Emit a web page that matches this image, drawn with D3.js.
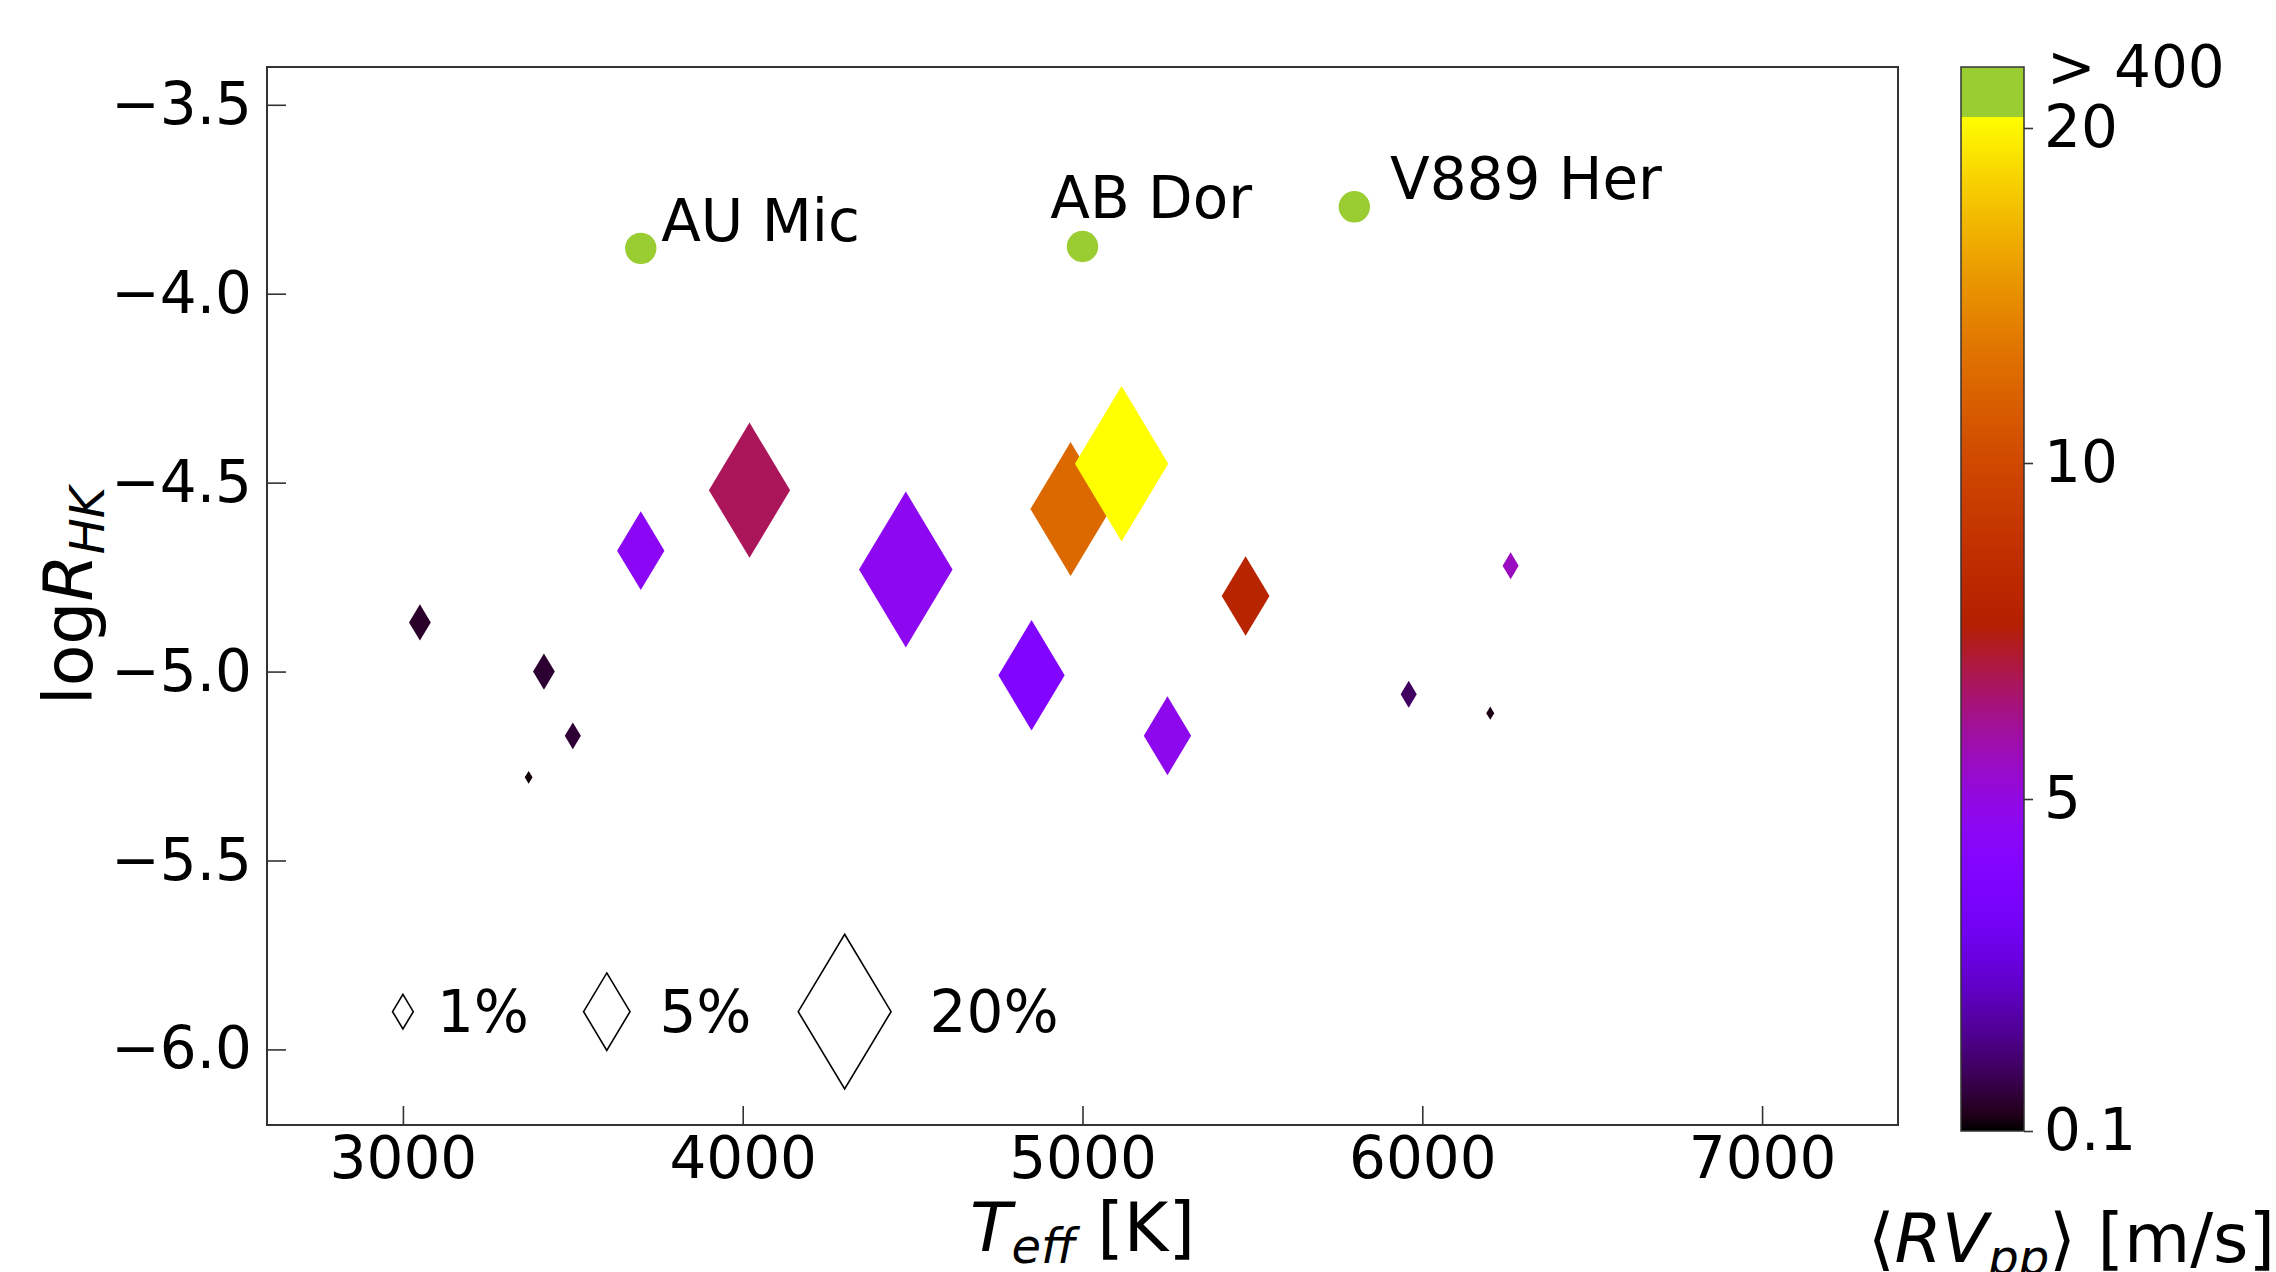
<!DOCTYPE html>
<html>
<head>
<meta charset="utf-8">
<script src="https://cdn.jsdelivr.net/npm/d3@7"></script>
<style>
  body { margin: 0; background: #fff; }
  text { font-family: 'DejaVu Sans', sans-serif; fill: #000; }
</style>
</head>
<body>
<div id="chart"></div>
<script>
// Data
const teff   = [3050, 3415, 3500, 3370, 3700, 4020, 4480, 4965, 5115, 4850, 5250, 5480, 5960, 6200, 6260]
const logRHK = [-4.87, -5.00, -5.17, -5.28, -4.68, -4.52, -4.73, -4.57, -4.45, -5.01, -5.17, -4.80, -5.06, -5.11, -4.72]
const rvpp   = [0.5, 0.55, 0.6, 0.15, 4.5, 6.75, 4.65, 12.6, 22, 3.85, 4.75, 7.9, 1.04, 0.28, 5.57]
const pct    = [1.1, 1.1, 0.6, 0.14, 5.2, 15.3, 20.3, 15, 20.2, 10.2, 5.2, 5.3, 0.6, 0.15, 0.6]

// Very active stars (> 400 m/s)
const activeNames = ['AU Mic', 'AB Dor', 'V889 Her']
const activeTeff  = [3700, 5000, 5800]
const activeLogR  = [-3.88, -3.875, -3.77]
const labelTeff   = [3760, 4905, 5905]
const labelLogR   = [-3.86, -3.80, -3.75]

// Size legend
const legendPct   = [1, 5, 20]
const legendTeff  = [3000, 3600, 4300]
const legendText  = ['1%', '5%', '20%']
const legendTextTeff = [3100, 3755, 4550]
const legendLogR  = -5.9

const xTicks  = [3000, 4000, 5000, 6000, 7000]
const yTicks  = [-3.5, -4.0, -4.5, -5.0, -5.5, -6.0]
const cbTicks = [0.1, 5, 10, 20]

// Layout
const width = 2276
const height = 1272
const plot = { left: 267, right: 1898, top: 67, bottom: 1125 }
const cb = { left: 1961, right: 2024, top: 67, gradTop: 117, bottom: 1131 }
const activeColor = '#9acd32'

const svg = d3.select('#chart')
    .append('svg')
    .attr('width', width)
    .attr('height', height)

// Scales
const x = d3.scaleLinear().domain([2600, 7400]).range([plot.left, plot.right])
const y = d3.scaleLinear().domain([-6.2, -3.4]).range([plot.bottom, plot.top])
const markerH = d3.scaleSqrt().domain([0, 1]).range([0, 34.6])
const cbY = d3.scaleLinear().domain(cbTicks).range([1131, 799, 463, 128])

// matplotlib 'gnuplot' colormap
const gnuplot = t => {
    t = Math.max(0, Math.min(1, t))
    const r = Math.sqrt(t), g = t * t * t, b = Math.max(0, Math.sin(2 * Math.PI * t))
    return d3.rgb(r * 255, g * 255, b * 255).formatHex()
}
const tOf = v => (cb.bottom - cbY(v)) / (cb.bottom - cb.gradTop)
const colorOf = v => gnuplot(tOf(v))

const diamond = (cx, cy, h) => {
    const w = h * 0.6
    return `M${cx},${cy - h / 2}L${cx + w / 2},${cy}L${cx},${cy + h / 2}L${cx - w / 2},${cy}Z`
}

// Axes
const xAxis = d3.axisBottom(x).tickValues(xTicks).tickFormat(d3.format('d'))
    .tickSizeInner(-19).tickSizeOuter(0).tickPadding(12)
const yAxis = d3.axisLeft(y).tickValues(yTicks).tickFormat(d3.format('.1f'))
    .tickSizeInner(-19).tickSizeOuter(0).tickPadding(15)

const xAxisGroup = svg.append('g')
    .attr('transform', `translate(0, ${plot.bottom})`)
    .call(xAxis)
const yAxisGroup = svg.append('g')
    .attr('transform', `translate(${plot.left}, 0)`)
    .call(yAxis)

;[xAxisGroup, yAxisGroup].forEach(g => {
    g.select('.domain').remove()
    g.selectAll('text')
        .style('font-size', '58px')
        .style('font-family', "'DejaVu Sans', sans-serif")
        .attr('fill', '#000')
    g.selectAll('line')
        .attr('stroke', '#333')
        .attr('stroke-width', 1.6)
})

svg.append('rect')
    .attr('x', plot.left)
    .attr('y', plot.top)
    .attr('width', plot.right - plot.left)
    .attr('height', plot.bottom - plot.top)
    .attr('fill', 'none')
    .attr('stroke', '#333')
    .attr('stroke-width', 2)

// Diamonds
const pts = teff.map((d, i) => ({ teff: d, logr: logRHK[i], rv: rvpp[i], pct: pct[i] }))
svg.append('g').selectAll('path')
    .data(pts)
    .enter()
    .append('path')
    .attr('d', d => diamond(x(d.teff), y(d.logr), markerH(d.pct)))
    .attr('fill', d => colorOf(d.rv))

// Active stars
const active = activeNames.map((n, i) => ({ name: n, teff: activeTeff[i], logr: activeLogR[i], lt: labelTeff[i], ll: labelLogR[i] }))
svg.append('g').selectAll('circle')
    .data(active)
    .enter()
    .append('circle')
    .attr('cx', d => x(d.teff))
    .attr('cy', d => y(d.logr))
    .attr('r', 15.7)
    .attr('fill', activeColor)
svg.append('g').selectAll('text')
    .data(active)
    .enter()
    .append('text')
    .attr('x', d => x(d.lt))
    .attr('y', d => y(d.ll))
    .style('font-size', '58px')
    .text(d => d.name)

// Size legend
const legend = legendPct.map((p, i) => ({ pct: p, teff: legendTeff[i], label: legendText[i], lt: legendTextTeff[i] }))
svg.append('g').selectAll('path')
    .data(legend)
    .enter()
    .append('path')
    .attr('d', d => diamond(x(d.teff), y(legendLogR), markerH(d.pct)))
    .attr('fill', 'none')
    .attr('stroke', '#000')
    .attr('stroke-width', 1.6)
svg.append('g').selectAll('text')
    .data(legend)
    .enter()
    .append('text')
    .attr('x', d => x(d.lt))
    .attr('y', y(legendLogR))
    .attr('dy', '0.35em')
    .style('font-size', '58px')
    .text(d => d.label)

// Axis labels
const xLabel = svg.append('text')
    .attr('x', (plot.left + plot.right) / 2)
    .attr('y', 1251)
    .attr('text-anchor', 'middle')
    .style('font-size', '68px')
xLabel.append('tspan').attr('font-style', 'italic').text('T')
xLabel.append('tspan').attr('font-style', 'italic').attr('font-size', '48px').attr('dy', 12).text('eff')
xLabel.append('tspan').attr('dy', -12).text(' [K]')

const yLabel = svg.append('text')
    .attr('transform', `translate(92, ${(plot.top + plot.bottom) / 2}) rotate(-90)`)
    .attr('text-anchor', 'middle')
    .style('font-size', '68px')
yLabel.append('tspan').text('log')
yLabel.append('tspan').attr('font-style', 'italic').text('R')
yLabel.append('tspan').attr('font-style', 'italic').attr('font-size', '48px').attr('dy', 12).text('HK')

// Colorbar
const grad = svg.append('defs').append('linearGradient')
    .attr('id', 'cbGrad')
    .attr('x1', 0).attr('y1', 1).attr('x2', 0).attr('y2', 0)
grad.selectAll('stop')
    .data(d3.range(0, 1.0001, 1 / 64))
    .enter()
    .append('stop')
    .attr('offset', d => d)
    .attr('stop-color', d => gnuplot(d))

svg.append('rect')
    .attr('x', cb.left).attr('y', cb.gradTop)
    .attr('width', cb.right - cb.left).attr('height', cb.bottom - cb.gradTop)
    .attr('fill', 'url(#cbGrad)')
svg.append('rect')
    .attr('x', cb.left).attr('y', cb.top)
    .attr('width', cb.right - cb.left).attr('height', cb.gradTop - cb.top)
    .attr('fill', activeColor)
svg.append('rect')
    .attr('x', cb.left).attr('y', cb.top)
    .attr('width', cb.right - cb.left).attr('height', cb.bottom - cb.top)
    .attr('fill', 'none')
    .attr('stroke', '#333')
    .attr('stroke-width', 1.5)

const cbAxis = d3.axisRight(cbY).tickValues(cbTicks).tickFormat(d => d)
    .tickSizeInner(9).tickSizeOuter(0).tickPadding(11)
const cbAxisGroup = svg.append('g')
    .attr('transform', `translate(${cb.right}, 0)`)
    .call(cbAxis)
cbAxisGroup.select('.domain').remove()
cbAxisGroup.selectAll('text')
    .style('font-size', '58px')
    .style('font-family', "'DejaVu Sans', sans-serif")
    .attr('fill', '#000')
cbAxisGroup.selectAll('line')
    .attr('stroke', '#333')
    .attr('stroke-width', 1.6)

svg.append('text')
    .attr('x', 2047)
    .attr('y', cb.top)
    .attr('dy', '0.35em')
    .style('font-size', '58px')
    .text('> 400')

const cbLabel = svg.append('text')
    .attr('x', 1868)
    .attr('y', 1262)
    .style('font-size', '68px')
cbLabel.append('tspan').text('\u27E8')
cbLabel.append('tspan').attr('font-style', 'italic').text('RV')
cbLabel.append('tspan').attr('font-style', 'italic').attr('font-size', '48px').attr('dy', 12).text('pp')
cbLabel.append('tspan').attr('dy', -12).text('\u27E9 [m/s]')
</script>
</body>
</html>
